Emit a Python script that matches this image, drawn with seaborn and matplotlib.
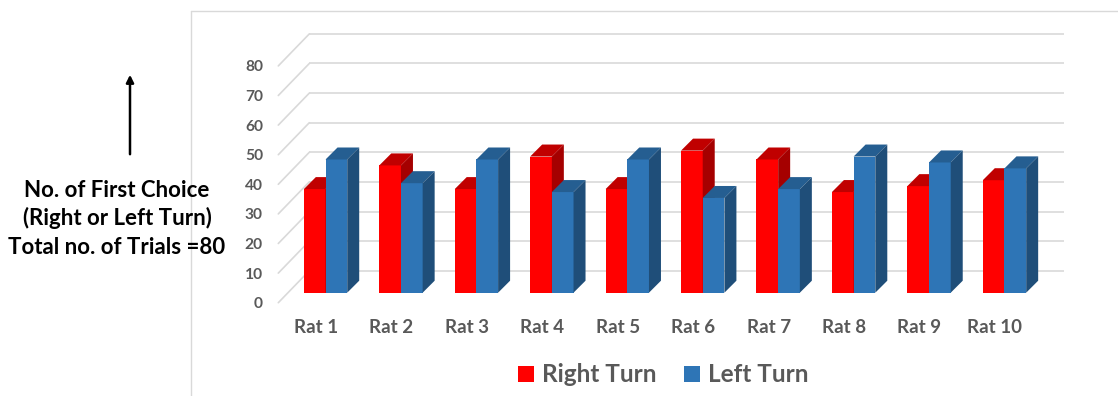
import numpy as np
import pandas as pd
import seaborn as sns
import matplotlib
matplotlib.use("Agg")
import matplotlib.pyplot as plt
from matplotlib.patches import Polygon, Patch
from matplotlib.lines import Line2D
from matplotlib.transforms import ScaledTranslation

# ---- data -------------------------------------------------------------
rats = ["Rat 1", "Rat 2", "Rat 3", "Rat 4", "Rat 5",
        "Rat 6", "Rat 7", "Rat 8", "Rat 9", "Rat 10"]
right_turn = [35, 43, 35, 46, 35, 48, 45, 34, 36, 38]
left_turn = [45, 37, 45, 34, 45, 32, 35, 46, 44, 42]
y_ticks = [0, 10, 20, 30, 40, 50, 60, 70, 80]
series = ["Right Turn", "Left Turn"]

df = pd.DataFrame({
    "rat": rats * 2,
    "count": right_turn + left_turn,
    "turn": [series[0]] * len(rats) + [series[1]] * len(rats),
})

# ---- styling ----------------------------------------------------------
sns.set_style("white")
plt.rcParams["font.family"] = ["Lato", "DejaVu Sans"]
plt.rcParams["font.weight"] = "bold"

front = {"Right Turn": "#FF0000", "Left Turn": "#2E75B6"}
top_c = {"Right Turn": "#C00000", "Left Turn": "#255E91"}
side_c = {"Right Turn": "#A50000", "Left Turn": "#1F4E79"}
grid_c = "#D9D9D9"
text_c = "#595959"

W, H, DPI = 1118, 396, 100
fig = plt.figure(figsize=(W / DPI, H / DPI), dpi=DPI)

# plot area (front plane of the columns)
ax_l, ax_r = 287.8, 1042.2          # px from left
ax_b, ax_t = 292.7, 55.9            # px from top
ax = fig.add_axes([ax_l / W, (H - ax_b) / H, (ax_r - ax_l) / W, (ax_b - ax_t) / H])

sns.barplot(data=df, x="rat", y="count", hue="turn", hue_order=series,
            palette=front, saturation=1, width=0.575, linewidth=0,
            legend=False, ax=ax)

ax.set_xlim(-0.5, len(rats) - 0.5)
ax.set_ylim(0, 80)
ax.set_xlabel("")
ax.set_ylabel("")
for s in ax.spines.values():
    s.set_visible(False)

# pixel -> data conversions for the oblique depth
px_x = (ax_r - ax_l) / (len(rats))
px_y = (ax_b - ax_t) / 80.0
def off(dx, dy):
    return dx / px_x, dy / px_y

floor_front = off(-9.5, -10)
bar_back = off(12, 12)
back_wall = off(21.5, 22)

# back wall gridlines and side-wall diagonals
x0 = -0.5
x1 = len(rats) - 0.5
for v in y_ticks:
    ax.plot([x0 + back_wall[0], x1 + back_wall[0]],
            [v + back_wall[1], v + back_wall[1]],
            color=grid_c, lw=1.2, zorder=0.5, clip_on=False,
            solid_capstyle="butt")
    ax.plot([x0 + floor_front[0], x0 + back_wall[0]],
            [v + floor_front[1], v + back_wall[1]],
            color=grid_c, lw=1.2, zorder=0.5, clip_on=False)

# top and side faces of each column
ddx, ddy = bar_back
for z, (name, cont) in enumerate(zip(series, ax.containers)):
    for bar in cont:
        bx = bar.get_x()
        bw = bar.get_width()
        bh = bar.get_height()
        bar.set_zorder(3 + z)
        bar.set_clip_on(False)
        top = Polygon([(bx, bh), (bx + bw, bh), (bx + bw + ddx, bh + ddy),
                       (bx + ddx, bh + ddy)], closed=True,
                      facecolor=top_c[name], edgecolor="none",
                      zorder=3 + z, clip_on=False)
        side = Polygon([(bx + bw, 0), (bx + bw + ddx, ddy),
                        (bx + bw + ddx, bh + ddy), (bx + bw, bh)], closed=True,
                       facecolor=side_c[name], edgecolor="none",
                       zorder=3 + z, clip_on=False)
        ax.add_patch(top)
        ax.add_patch(side)

# tick labels sit on the front edge of the floor / side wall
ax.set_yticks(y_ticks)
ax.set_yticklabels([str(v) for v in y_ticks])
ax.tick_params(axis="y", length=0, pad=17.9, labelsize=11.2, labelcolor=text_c)
ax.tick_params(axis="x", length=0, pad=19, labelsize=13.5, labelcolor=text_c)
y_shift = ScaledTranslation(0, -10 / DPI, fig.dpi_scale_trans)
for lbl in ax.get_yticklabels():
    lbl.set_transform(lbl.get_transform() + y_shift)
    lbl.set_fontweight("bold")
x_shift = ScaledTranslation(-9.5 / DPI, 0, fig.dpi_scale_trans)
for lbl in ax.get_xticklabels():
    lbl.set_transform(lbl.get_transform() + x_shift)
    lbl.set_fontweight("bold")

# legend
handles = [Patch(facecolor=front[n], edgecolor="none", label=n) for n in series]
leg = fig.legend(handles=handles, loc="center", bbox_to_anchor=(663.5 / W, (H - 375) / H),
                 ncol=2, frameon=False, fontsize=17.5, handlelength=0.62,
                 handleheight=0.62, handletextpad=0.35, columnspacing=1.15,
                 borderpad=0, borderaxespad=0)
for t in leg.get_texts():
    t.set_color(text_c)
    t.set_fontweight("bold")

# chart frame (top and left edges)
fig.add_artist(Line2D([191 / W, 191 / W], [0, (H - 10.7) / H], color=grid_c, lw=1.0))
fig.add_artist(Line2D([191 / W, 1], [(H - 10.7) / H, (H - 10.7) / H], color=grid_c, lw=1.0))

# axis caption with an upward arrow
fig.add_artist(matplotlib.patches.FancyArrowPatch(
    (130 / W, (H - 157) / H), (130 / W, (H - 72) / H),
    transform=fig.transFigure, arrowstyle="-|>", mutation_scale=11,
    lw=1.8, color="black"))
caption = ["No. of First Choice", "(Right or Left Turn)", "Total no. of Trials =80"]
for line, base in zip(caption, [196.7, 225.3, 254.0]):
    fig.text(117 / W, (H - base) / H, line, ha="center", va="baseline",
             fontsize=16, fontweight="bold", color="black")

fig.savefig("out.png", dpi=DPI)
